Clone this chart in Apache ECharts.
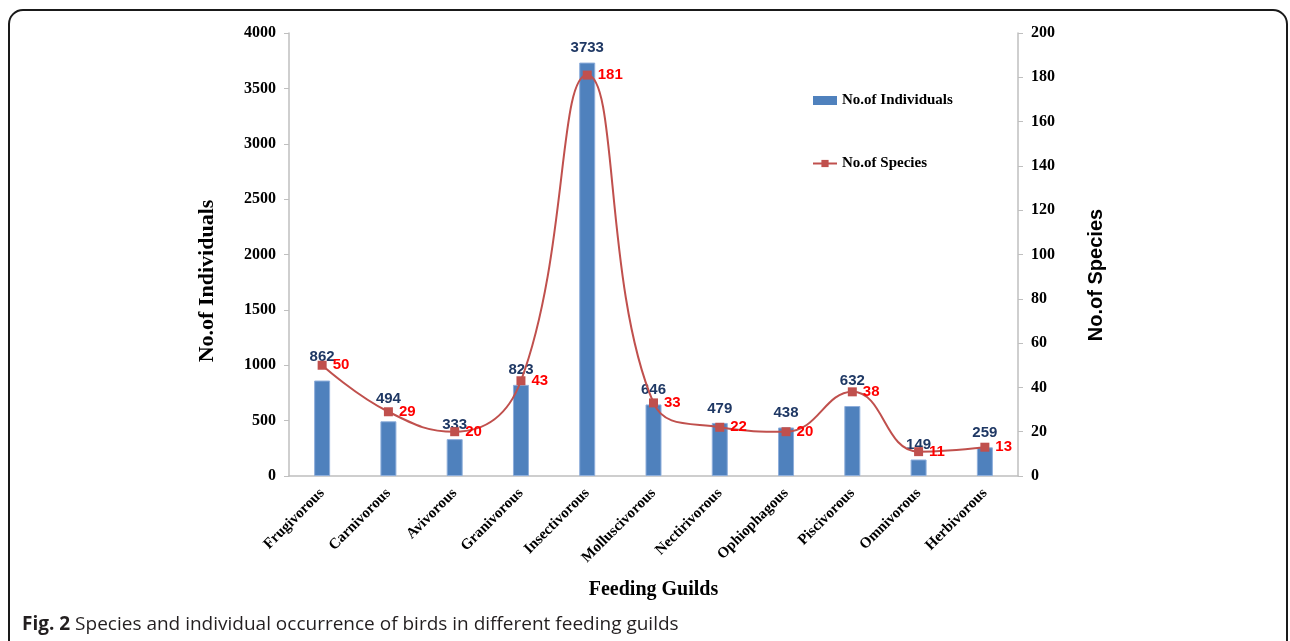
<!DOCTYPE html>
<html>
<head>
<meta charset="utf-8">
<script src="https://cdn.jsdelivr.net/npm/echarts@6/dist/echarts.min.js"></script>
<style>
  html, body { margin: 0; padding: 0; background: #fff; }
  #chart { width: 1290px; height: 641px; }
</style>
</head>
<body>
<div id="chart"></div>
<script>
// Feeding guilds of recorded birds
const guilds = ['Frugivorous', 'Carnivorous', 'Avivorous', 'Granivorous', 'Insectivorous',
  'Molluscivorous', 'Nectirivorous', 'Ophiophagous', 'Piscivorous', 'Omnivorous', 'Herbivorous'];
const individuals = [862, 494, 333, 823, 3733, 646, 479, 438, 632, 149, 259];
const species = [50, 29, 20, 43, 181, 33, 22, 20, 38, 11, 13];
const leftTicks = { min: 0, max: 4000, interval: 500 };
const rightTicks = { min: 0, max: 200, interval: 20 };

// extra lift for count labels that would sit on the species line
const countLabelLift = { Frugivorous: 9, Carnivorous: 8, Piscivorous: 11 };

const serif = '"Liberation Serif", "Times New Roman", serif';
const sans = '"Liberation Sans", Arial, sans-serif';
const caption = '"Open Sans", "Noto Sans", sans-serif';
const axisGray = '#bfbfbf';

const chart = echarts.init(document.getElementById('chart'), null, { renderer: 'canvas' });

const barData = individuals.map((v, i) => {
  const lift = countLabelLift[guilds[i]];
  return lift ? { value: v, label: { distance: 7 + lift } } : v;
});

chart.setOption({
  backgroundColor: '#fff',
  animation: false,
  title: {
    left: 17, top: 610,
    text: '{b|Fig. 2} Species and individual occurrence of birds in different feeding guilds',
    textStyle: {
      fontFamily: caption, fontSize: 19, fontWeight: 'normal', color: '#231f20',
      rich: { b: { fontFamily: caption, fontSize: 19, fontWeight: 'bold', color: '#231f20' } }
    }
  },
  graphic: [{
    type: 'rect', z: -1,
    shape: { x: 9, y: 10, width: 1278, height: 720, r: 14 },
    style: { fill: 'none', stroke: '#1a1a1a', lineWidth: 2 }
  }, {
    type: 'text', x: 207, y: 281, rotation: Math.PI / 2,
    style: {
      text: 'No.of Individuals', align: 'center', verticalAlign: 'middle',
      font: 'bold 22px ' + serif, fill: '#000'
    }
  }, {
    type: 'text', x: 1096, y: 275, rotation: Math.PI / 2,
    style: {
      text: 'No.of Species', align: 'center', verticalAlign: 'middle',
      font: 'bold 20px ' + sans, fill: '#000'
    }
  }],
  legend: {
    left: 807, top: 88, orient: 'vertical', itemGap: 48,
    itemWidth: 24, itemHeight: 9,
    textStyle: { fontFamily: serif, fontWeight: 'bold', fontSize: 15, color: '#000' },
    data: [
      { name: 'No.of Individuals', icon: 'rect', itemStyle: { borderWidth: 0 } },
      { name: 'No.of Species' }
    ]
  },
  grid: { left: 289, right: 272, top: 33, bottom: 165, containLabel: false },
  xAxis: {
    type: 'category', data: guilds,
    name: 'Feeding Guilds', nameLocation: 'middle', nameGap: 104,
    nameTextStyle: { fontFamily: serif, fontWeight: 'bold', fontSize: 20, color: '#000' },
    axisLine: { lineStyle: { color: axisGray, width: 1.5 } },
    axisTick: { show: false },
    axisLabel: {
      rotate: 45, interval: 0, margin: 15,
      fontFamily: serif, fontWeight: 'bold', fontSize: 15, color: '#000'
    }
  },
  yAxis: [{
    type: 'value', position: 'left',
    min: leftTicks.min, max: leftTicks.max, interval: leftTicks.interval,
    axisLine: { show: true, lineStyle: { color: axisGray, width: 1.5 } },
    axisTick: { show: true, length: 5, lineStyle: { color: axisGray } },
    splitLine: { show: false },
    axisLabel: {
      margin: 13, formatter: v => String(v),
      fontFamily: serif, fontWeight: 'bold', fontSize: 16, color: '#000'
    }
  }, {
    type: 'value', position: 'right',
    min: rightTicks.min, max: rightTicks.max, interval: rightTicks.interval,
    axisLine: { show: true, lineStyle: { color: axisGray, width: 1.5 } },
    axisTick: { show: true, length: 5, lineStyle: { color: axisGray } },
    splitLine: { show: false },
    axisLabel: {
      margin: 13, formatter: v => String(v),
      fontFamily: serif, fontWeight: 'bold', fontSize: 16, color: '#000'
    }
  }],
  series: [{
    name: 'No.of Individuals', type: 'bar', yAxisIndex: 0,
    data: barData, barWidth: 16,
    itemStyle: { color: '#4f81bd', borderColor: '#8eaedb', borderWidth: 1 },
    label: {
      show: true, position: 'top', distance: 7,
      fontFamily: sans, fontWeight: 'bold', fontSize: 15, color: '#1f3864'
    }
  }, {
    name: 'No.of Species', type: 'line', yAxisIndex: 1,
    data: species, smooth: 0.45,
    symbol: 'rect', symbolSize: 9,
    lineStyle: { color: '#c0504d', width: 2 },
    itemStyle: { color: '#c0504d' },
    label: {
      show: true, position: 'right', distance: 6,
      fontFamily: sans, fontWeight: 'bold', fontSize: 15, color: '#ff0000'
    }
  }]
});
</script>
</body>
</html>
